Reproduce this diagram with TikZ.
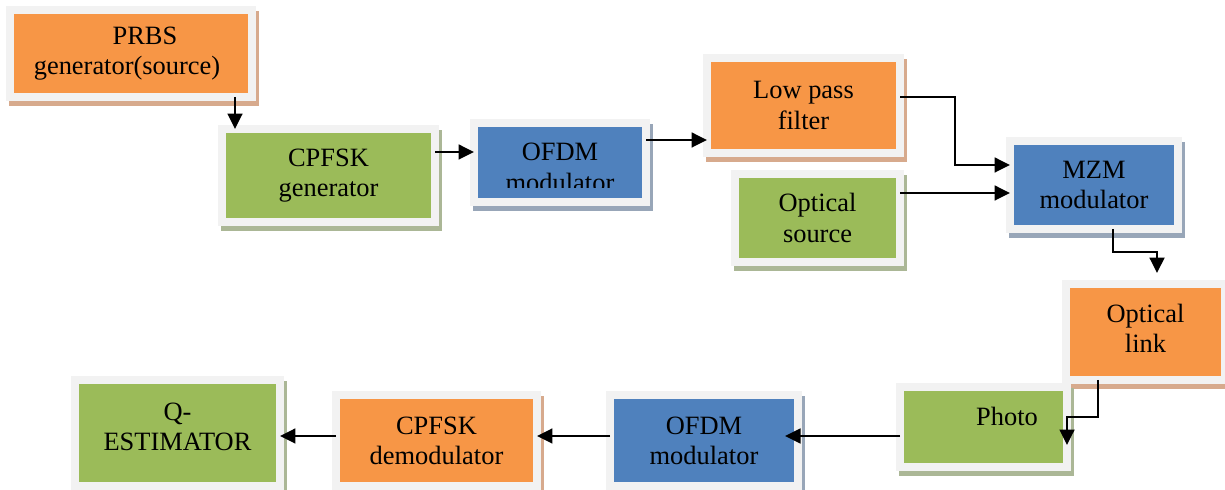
\documentclass[tikz,border=0pt]{standalone}
\usepackage{fontspec}
\setmainfont{Liberation Serif}
\usetikzlibrary{arrows.meta,calc}

\definecolor{orfill}{HTML}{F79646}
\definecolor{grfill}{HTML}{9BBB59}
\definecolor{blfill}{HTML}{4F81BD}
\definecolor{framegray}{HTML}{F2F2F2}
\definecolor{orshade}{HTML}{D7AA8D}
\definecolor{grshade}{HTML}{ABB796}
\definecolor{blshade}{HTML}{98A6B8}

\newdimen\unitpx \unitpx=0.025cm
\newcommand\boxfont{\fontsize{18.8}{21.4}\selectfont}
% drop shadow of a block: its outer frame moved 3 units right and 5 down
\newcommand\blockshadow[2]{%
  \fill[#2] ($(#1.north west)+(-1,1)$) rectangle ($(#1.south east)+(7,9)$);}

\pgfdeclarelayer{paper}
\pgfdeclarelayer{shade}
\pgfsetlayers{paper,shade,main}

\begin{document}
\begin{tikzpicture}[x=0.025cm,y=-0.025cm,
  blk/.style n args={3}{draw=framegray, line width=8*\unitpx, fill=#1,
    minimum width=#2*\unitpx, minimum height=#3*\unitpx,
    inner sep=0pt, outer sep=0pt, align=center, font=\boxfont},
  lbl/.style={inner sep=0pt, font=\boxfont},
  arr/.style={draw=black, line width=1.8pt, -{Triangle[length=11pt,width=10.5pt]}}]

\useasboundingbox (0,0) rectangle (1225,490);
\begin{pgfonlayer}{paper}
  \fill[white] (0,0) rectangle (1225,490);
\end{pgfonlayer}

% transmitter chain
\node[blk={orfill}{242}{87}] (prbs) at (131,53.5)
  {\hspace*{28\unitpx}PRBS\\generator(source)\hspace*{8\unitpx}};
\node[blk={grfill}{213}{93}] (cpg) at (328.5,175.5) {CPFSK\\generator};
\node[blk={blfill}{172}{79}] (ofdm1) at (560,162.5) {};
\node[lbl] (ofdm1a) at (560,152) {OFDM};
% the second line is cut off by its text frame
\begin{scope}
  \clip (470,100) rectangle (650,188);
  \node[lbl] (ofdm1b) at (560,182) {modulator};
\end{scope}
\node[blk={orfill}{193}{95}] (lpf) at (803.5,105.5) {Low pass\\filter};
\node[blk={grfill}{165}{88}] (osrc) at (817.5,218) {Optical\\source};
\node[blk={blfill}{168}{88}] (mzm) at (1094,185) {MZM\\modulator};
\node[blk={orfill}{159}{96}] (olink) at (1145.5,332)
  {Optical\\link\rule[-7\unitpx]{0pt}{0pt}};

% receiver chain
\node[blk={grfill}{167}{80}] (photo) at (983.5,427)
  {\hspace*{47\unitpx}Photo\rule[-22\unitpx]{0pt}{0pt}};
\node[blk={blfill}{188}{91}] (ofdm2) at (704,440.5) {OFDM\\modulator};
\node[blk={orfill}{201}{91}] (cpd) at (436.5,440.5) {CPFSK\\demodulator};
\node[blk={grfill}{205}{106}] (qest) at (177.5,433)
  {Q-\\ESTIMATOR\rule[-13\unitpx]{0pt}{0pt}};

\begin{pgfonlayer}{shade}
  \blockshadow{prbs}{orshade}
  \blockshadow{cpg}{grshade}
  \blockshadow{ofdm1}{blshade}
  \blockshadow{lpf}{orshade}
  \blockshadow{osrc}{grshade}
  \blockshadow{mzm}{blshade}
  \blockshadow{olink}{orshade}
  \blockshadow{photo}{grshade}
  \blockshadow{ofdm2}{blshade}
  \blockshadow{cpd}{orshade}
  \blockshadow{qest}{grshade}
\end{pgfonlayer}

% connectors
\coordinate (pin) at (1067,445);
\draw[arr] (prbs.south -| 235,0) -- (cpg.north -| 235,0);
\draw[arr] (cpg.east |- 0,152) -- (ofdm1.west |- 0,152);
\draw[arr] (ofdm1.east |- 0,140) -- (lpf.west |- 0,140);
\draw[arr] (lpf.east |- 0,97) -| (955,165) -- (mzm.west |- 0,165);
\draw[arr] (osrc.east |- 0,193) -- (mzm.west |- 0,193);
\draw[arr, shorten >=7.8pt] (mzm.south -| 1113,0) |- (1157,252) -- (olink.north -| 1157,0);
\draw[arr] (olink.south -| 1098,0) |- (1067,417) -- (pin);
\draw[arr, shorten >=-9.2pt] (photo.west |- 0,436) -- (ofdm2.east |- 0,436);
\draw[arr] (ofdm2.west |- 0,436) -- (cpd.east |- 0,436);
\draw[arr] (cpd.west |- 0,436) -- (qest.east |- 0,436);
\end{tikzpicture}
\end{document}
